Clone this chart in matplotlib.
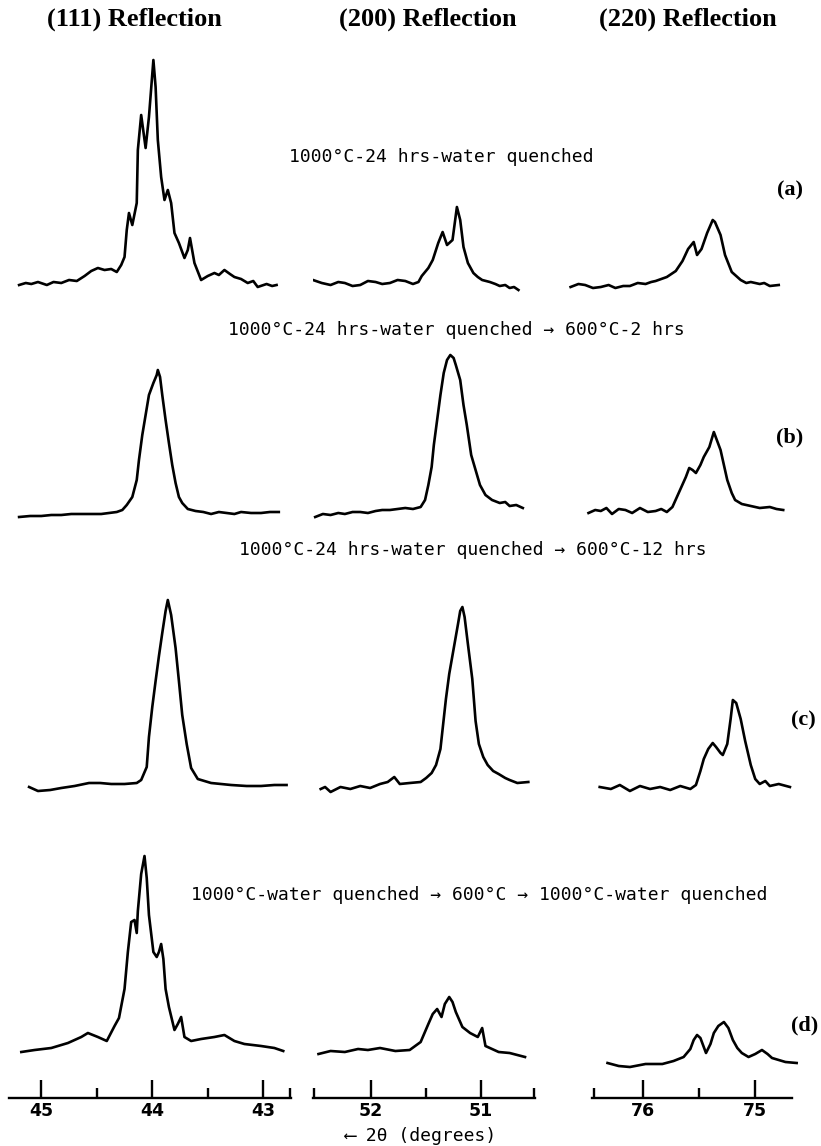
import matplotlib.pyplot as plt

# column titles, panel letters and the heat-treatment notes
reflections = ["(111) Reflection", "(200) Reflection", "(220) Reflection"]
panels = ["(a)", "(b)", "(c)", "(d)"]
conditions = ["1000°C-24 hrs-water quenched",
              "1000°C-24 hrs-water quenched → 600°C-2 hrs",
              "1000°C-24 hrs-water quenched → 600°C-12 hrs",
              "1000°C-water quenched → 600°C → 1000°C-water quenched"]

# x axis ticks (2 theta, degrees) for each reflection
major_ticks = [[45, 44, 43], [52, 51], [76, 75]]
major_labels = [["45", "44", "43"], ["52", "51"], ["76", "75"]]
minor_ticks = [[44.5, 43.5], [51.5], [75.5]]

# --- (a) 1000C water quenched ---
tth_a_111 = [45.20, 45.14, 45.09, 45.03, 44.95, 44.89, 44.82, 44.75, 44.68, 44.61,
             44.55, 44.49, 44.43, 44.37, 44.32, 44.28, 44.25, 44.23, 44.21, 44.18,
             44.14, 44.13, 44.10, 44.06, 44.03, 43.99, 43.97, 43.95, 43.92, 43.89,
             43.86, 43.83, 43.80, 43.76, 43.71, 43.68, 43.66, 43.62, 43.56, 43.50,
             43.44, 43.40, 43.35, 43.30, 43.26, 43.20, 43.14, 43.09, 43.05, 42.97,
             42.92, 42.88]
cnt_a_111 = [0, 2, 1, 3, 0, 3, 2, 5, 4, 9,
             14, 17, 15, 16, 13, 20, 28, 55, 72, 60,
             82, 135, 170, 137, 168, 225, 198, 145, 108, 85,
             95, 82, 52, 42, 27, 35, 47, 22, 5, 9,
             12, 10, 15, 11, 8, 6, 2, 4, -2, 1,
             -1, 0]
tth_a_200 = [52.53, 52.45, 52.37, 52.30, 52.24, 52.17, 52.10, 52.03, 51.96, 51.90,
             51.83, 51.76, 51.69, 51.62, 51.57, 51.54, 51.48, 51.44, 51.39, 51.35,
             51.31, 51.26, 51.22, 51.19, 51.16, 51.12, 51.07, 51.03, 50.99, 50.92,
             50.87, 50.83, 50.78, 50.74, 50.70, 50.66]
cnt_a_200 = [5, 2, 0, 3, 2, -1, 0, 4, 3, 1,
             2, 5, 4, 1, 3, 9, 17, 25, 42, 53,
             40, 45, 78, 65, 38, 22, 12, 8, 5, 3,
             1, -1, 0, -3, -2, -5]
tth_a_220 = [76.65, 76.58, 76.52, 76.45, 76.38, 76.31, 76.25, 76.18, 76.12, 76.05,
             75.98, 75.93, 75.89, 75.84, 75.79, 75.71, 75.65, 75.60, 75.55, 75.52,
             75.48, 75.43, 75.38, 75.36, 75.31, 75.27, 75.21, 75.13, 75.08, 75.04,
             74.96, 74.92, 74.87, 74.79]
cnt_a_220 = [0, 3, 2, -1, 0, 2, -1, 1, 1, 4,
             3, 5, 6, 8, 10, 16, 26, 38, 45, 32,
             38, 54, 67, 65, 52, 32, 15, 7, 4, 5,
             3, 4, 1, 2]

# --- (b) + 600C 2 hrs ---
tth_b_111 = [45.20, 45.10, 45.00, 44.91, 44.82, 44.73, 44.64, 44.55, 44.46, 44.39,
             44.32, 44.27, 44.23, 44.18, 44.14, 44.12, 44.09, 44.06, 44.03, 43.99,
             43.96, 43.95, 43.93, 43.91, 43.88, 43.85, 43.82, 43.79, 43.76, 43.73,
             43.68, 43.61, 43.54, 43.47, 43.40, 43.33, 43.26, 43.20, 43.11, 43.02,
             42.94, 42.86]
cnt_b_111 = [-2, -1, -1, 0, 0, 1, 1, 1, 1, 2,
             3, 5, 10, 18, 35, 55, 80, 100, 120, 132,
             140, 145, 138, 120, 95, 72, 50, 32, 18, 12,
             6, 4, 3, 1, 3, 2, 1, 3, 2, 2,
             3, 3]
tth_b_200 = [52.51, 52.44, 52.37, 52.30, 52.24, 52.17, 52.10, 52.03, 51.96, 51.90,
             51.83, 51.76, 51.69, 51.62, 51.55, 51.51, 51.48, 51.45, 51.43, 51.40,
             51.37, 51.34, 51.31, 51.28, 51.25, 51.23, 51.19, 51.16, 51.13, 51.09,
             51.05, 51.01, 50.96, 50.90, 50.83, 50.78, 50.74, 50.68, 50.62]
cnt_b_200 = [-2, 1, 0, 2, 1, 3, 3, 2, 4, 5,
             5, 6, 7, 6, 8, 15, 30, 48, 70, 95,
             120, 142, 155, 160, 157, 150, 135, 110, 90, 60,
             45, 30, 20, 15, 12, 13, 9, 10, 7]
tth_b_220 = [76.49, 76.43, 76.38, 76.33, 76.28, 76.22, 76.16, 76.10, 76.03, 75.96,
             75.89, 75.84, 75.79, 75.74, 75.70, 75.66, 75.62, 75.59, 75.56, 75.53,
             75.49, 75.46, 75.41, 75.37, 75.34, 75.31, 75.28, 75.25, 75.21, 75.18,
             75.12, 75.04, 74.96, 74.87, 74.81, 74.75]
cnt_b_220 = [0, 3, 2, 5, -1, 4, 3, 0, 5, 1,
             2, 4, 1, 6, 16, 26, 36, 45, 43, 40,
             48, 56, 66, 81, 72, 63, 48, 33, 20, 13,
             9, 7, 5, 6, 4, 3]

# --- (c) + 600C 12 hrs ---
tth_c_111 = [45.11, 45.03, 44.92, 44.82, 44.70, 44.57, 44.47, 44.37, 44.25, 44.14,
             44.10, 44.05, 44.03, 44.00, 43.97, 43.94, 43.91, 43.88, 43.86, 43.83,
             43.79, 43.76, 43.73, 43.69, 43.65, 43.59, 43.47, 43.38, 43.29, 43.15,
             43.02, 42.90, 42.79]
cnt_c_111 = [0, -4, -3, -1, 1, 4, 4, 3, 3, 4,
             7, 20, 50, 80, 106, 131, 154, 176, 187, 172,
             139, 106, 72, 43, 19, 8, 4, 3, 2, 1,
             1, 2, 2]
tth_c_200 = [52.46, 52.42, 52.37, 52.28, 52.19, 52.10, 52.01, 51.92, 51.85, 51.79,
             51.74, 51.65, 51.55, 51.50, 51.45, 51.41, 51.37, 51.35, 51.32, 51.29,
             51.25, 51.21, 51.19, 51.17, 51.15, 51.12, 51.08, 51.05, 51.02, 50.98,
             50.94, 50.89, 50.84, 50.78, 50.74, 50.67, 50.57]
cnt_c_200 = [0, 2, -3, 2, 0, 3, 1, 5, 7, 12,
             5, 6, 7, 11, 16, 24, 40, 60, 90, 115,
             140, 165, 178, 182, 172, 145, 110, 68, 45, 32,
             24, 18, 15, 11, 9, 6, 7]
tth_c_220 = [76.39, 76.29, 76.21, 76.12, 76.03, 75.94, 75.85, 75.76, 75.67, 75.58,
             75.53, 75.49, 75.46, 75.42, 75.38, 75.35, 75.31, 75.29, 75.25, 75.22,
             75.20, 75.17, 75.13, 75.09, 75.04, 75.00, 74.96, 74.91, 74.87, 74.79,
             74.69]
cnt_c_220 = [2, 0, 4, -2, 3, 0, 2, -1, 3, 0,
             4, 18, 30, 40, 46, 42, 36, 34, 45, 70,
             89, 86, 70, 48, 24, 10, 5, 8, 3, 5,
             2]

# --- (d) quenched, aged, re-quenched ---
tth_d_111 = [45.18, 45.06, 44.91, 44.76, 44.64, 44.58, 44.49, 44.41, 44.34, 44.30,
             44.25, 44.22, 44.19, 44.16, 44.14, 44.13, 44.10, 44.07, 44.05, 44.03,
             43.99, 43.96, 43.94, 43.92, 43.90, 43.88, 43.85, 43.80, 43.77, 43.74,
             43.71, 43.65, 43.56, 43.44, 43.35, 43.26, 43.17, 43.02, 42.90, 42.82]
cnt_d_111 = [0, 2, 4, 9, 15, 19, 15, 11, 26, 34,
             63, 100, 130, 132, 119, 141, 178, 196, 174, 137,
             100, 95, 100, 108, 93, 63, 45, 22, 28, 35,
             15, 11, 13, 15, 17, 11, 8, 6, 4, 1]
tth_d_200 = [52.48, 52.37, 52.24, 52.12, 52.03, 51.92, 51.78, 51.65, 51.55, 51.48,
             51.44, 51.40, 51.36, 51.33, 51.29, 51.26, 51.23, 51.17, 51.10, 51.03,
             50.99, 50.96, 50.90, 50.84, 50.74, 50.60]
cnt_d_200 = [0, 3, 2, 5, 4, 6, 3, 4, 12, 30,
             40, 45, 37, 50, 57, 52, 42, 27, 21, 17,
             26, 8, 5, 2, 1, -3]
tth_d_220 = [76.32, 76.22, 76.12, 75.98, 75.83, 75.73, 75.64, 75.58, 75.55, 75.52,
             75.49, 75.44, 75.40, 75.37, 75.33, 75.28, 75.24, 75.20, 75.16, 75.12,
             75.06, 75.00, 74.94, 74.89, 74.85, 74.73, 74.63]
cnt_d_220 = [1, -2, -3, 0, 0, 3, 7, 15, 24, 29,
             26, 11, 20, 31, 38, 42, 36, 24, 16, 11,
             7, 10, 14, 10, 6, 2, 1]

# rows (a..d) x columns (111, 200, 220)
scans = [[(tth_a_111, cnt_a_111), (tth_a_200, cnt_a_200), (tth_a_220, cnt_a_220)],
         [(tth_b_111, cnt_b_111), (tth_b_200, cnt_b_200), (tth_b_220, cnt_b_220)],
         [(tth_c_111, cnt_c_111), (tth_c_200, cnt_c_200), (tth_c_220, cnt_c_220)],
         [(tth_d_111, cnt_d_111), (tth_d_200, cnt_d_200), (tth_d_220, cnt_d_220)]]

# layout (pixels of the 821 x 1146 page)
W, H = 821, 1146
AXIS_Y, TOP_Y = 1098, 40
col_px = [(8, 291), (313, 536), (565, 800)]
col_xlim = [(45.30, 42.75), (52.53, 50.50), (76.70, 74.60)]
col_spine = [(45.29, 42.75), (52.53, 50.51), (76.455, 74.67)]
end_ticks = [[42.76], [52.52, 50.52], [76.44]]
# baseline of each trace, pixels above the x axis line
offsets = [[813, 813, 811],
           [583, 583, 585],
           [311, 309, 309],
           [46, 44, 34]]
title_pos = [(134, 19), (428, 19), (688, 19)]
cond_pos = [(441, 157), (456, 330), (473, 550), (479, 895)]
panel_pos = [(790, 190), (790, 437), (803, 720), (805, 1025)]

MONO = ["DejaVu Sans Mono", "DejaVu Sans"]
SERIF = ["Liberation Serif", "DejaVu Serif"]


def fx(px):
    return px / W


def fy(py):
    return 1 - py / H


def draw_column(fig, col):
    """ one reflection: four stacked scans sharing a 2-theta axis """
    left, right = col_px[col]
    ax = fig.add_axes([fx(left), fy(AXIS_Y), (right - left) / W,
                       (AXIS_Y - TOP_Y) / H])
    ax.patch.set_visible(False)
    for row in range(4):
        tth, cnt = scans[row][col]
        base = offsets[row][col]
        ax.plot(tth, [c + base for c in cnt], color="black", lw=1.9,
                solid_joinstyle="round")
    ax.set_xlim(*col_xlim[col])
    ax.set_ylim(0, AXIS_Y - TOP_Y)
    for side in ["left", "right", "top"]:
        ax.spines[side].set_visible(False)
    ax.spines["bottom"].set_linewidth(1.7)
    ax.spines["bottom"].set_bounds(*col_spine[col])
    ax.set_yticks([])
    ax.set_xticks(major_ticks[col], labels=major_labels[col],
                  fontweight="bold", fontsize=12.5, family="DejaVu Sans")
    ax.set_xticks(minor_ticks[col] + end_ticks[col], minor=True)
    ax.tick_params(axis="x", which="major", direction="in", length=13,
                   width=1.7, pad=3)
    ax.tick_params(axis="x", which="minor", direction="in", length=7,
                   width=1.7)
    return ax


def main():
    fig = plt.figure(figsize=(W / 100, H / 100), dpi=100)

    for col in range(3):
        draw_column(fig, col)

    for text, (x, y) in zip(reflections, title_pos):
        fig.text(fx(x), fy(y), text, ha="center", va="center",
                 family=SERIF, fontweight="bold", fontsize=19)
    for text, (x, y) in zip(conditions, cond_pos):
        fig.text(fx(x), fy(y), text, ha="center", va="center",
                 family=MONO, fontsize=13)
    for text, (x, y) in zip(panels, panel_pos):
        fig.text(fx(x), fy(y), text, ha="center", va="center",
                 family=SERIF, fontweight="bold", fontsize=16)

    fig.text(fx(421), fy(1136), "⟵ 2θ (degrees)", ha="center", va="center",
             family=MONO, fontsize=13)

    fig.savefig("out.png", dpi=100)


main()
